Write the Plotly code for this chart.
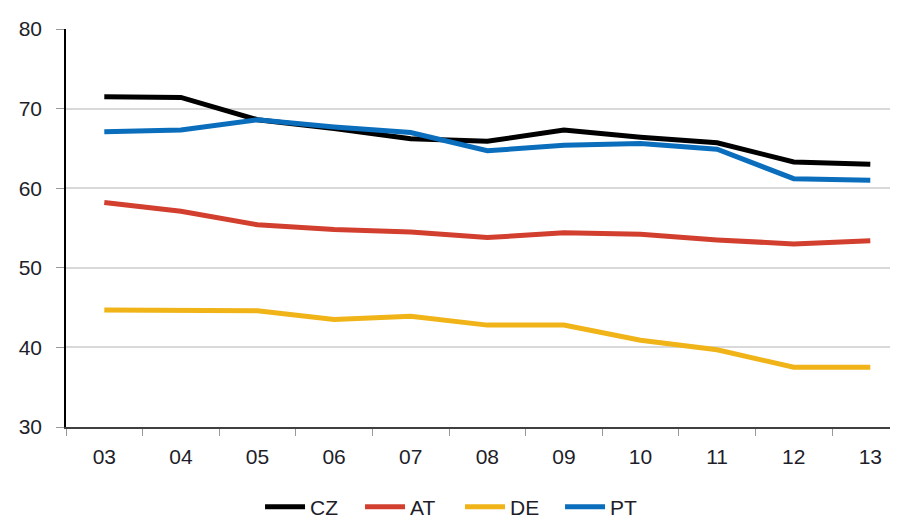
import plotly.graph_objects as go

years = ["03", "04", "05", "06", "07", "08", "09", "10", "11", "12", "13"]
cz = [71.5, 71.4, 68.6, 67.5, 66.2, 65.9, 67.3, 66.4, 65.7, 63.3, 63.0]
at = [58.2, 57.1, 55.4, 54.8, 54.5, 53.8, 54.4, 54.2, 53.5, 53.0, 53.4]
de = [44.7, 44.7, 44.6, 43.5, 43.9, 42.8, 42.8, 40.9, 39.7, 37.5, 37.5]
pt = [67.1, 67.3, 68.6, 67.7, 67.0, 64.7, 65.4, 65.6, 64.9, 61.2, 61.0]

series = [("CZ", cz, "#000000"), ("AT", at, "#D23F2F"),
          ("DE", de, "#F0B418"), ("PT", pt, "#0A6EBD")]

fig = go.Figure()
for name, vals, col in series:
    fig.add_trace(go.Scatter(x=years, y=vals, name=name, mode="lines",
                             line=dict(color=col, width=5)))

font = dict(family="Liberation Sans, Arial, sans-serif", size=21, color="#1e1e2a")
fig.update_layout(
    width=898, height=520,
    margin=dict(l=58, r=0, t=21, b=86),
    plot_bgcolor="white", paper_bgcolor="white",
    font=font,
    showlegend=True,
    legend=dict(orientation="h", x=0.231, xanchor="left", y=-0.15, yanchor="top",
                entrywidth=45, entrywidthmode="pixels",
                font=dict(size=21), itemwidth=40, tracegroupgap=0),
    xaxis=dict(type="category", range=[-0.5, 10.466], showline=True, linecolor="#404040",
               linewidth=1.5, ticks="outside", ticklen=7, tickcolor="#999999",
               tickson="boundaries", showgrid=False, tickfont=font,
               automargin=False, ticklabelstandoff=10),
    yaxis=dict(range=[30, 80], dtick=10, showline=True, linecolor="#000", linewidth=1.5,
               ticks="outside", ticklen=8, tickcolor="#999999",
               showgrid=True, gridcolor="#D9D9D9", gridwidth=1.5, zeroline=False,
               tickfont=font, automargin=False, ticklabelstandoff=10),
)
fig.write_html("out.html")
